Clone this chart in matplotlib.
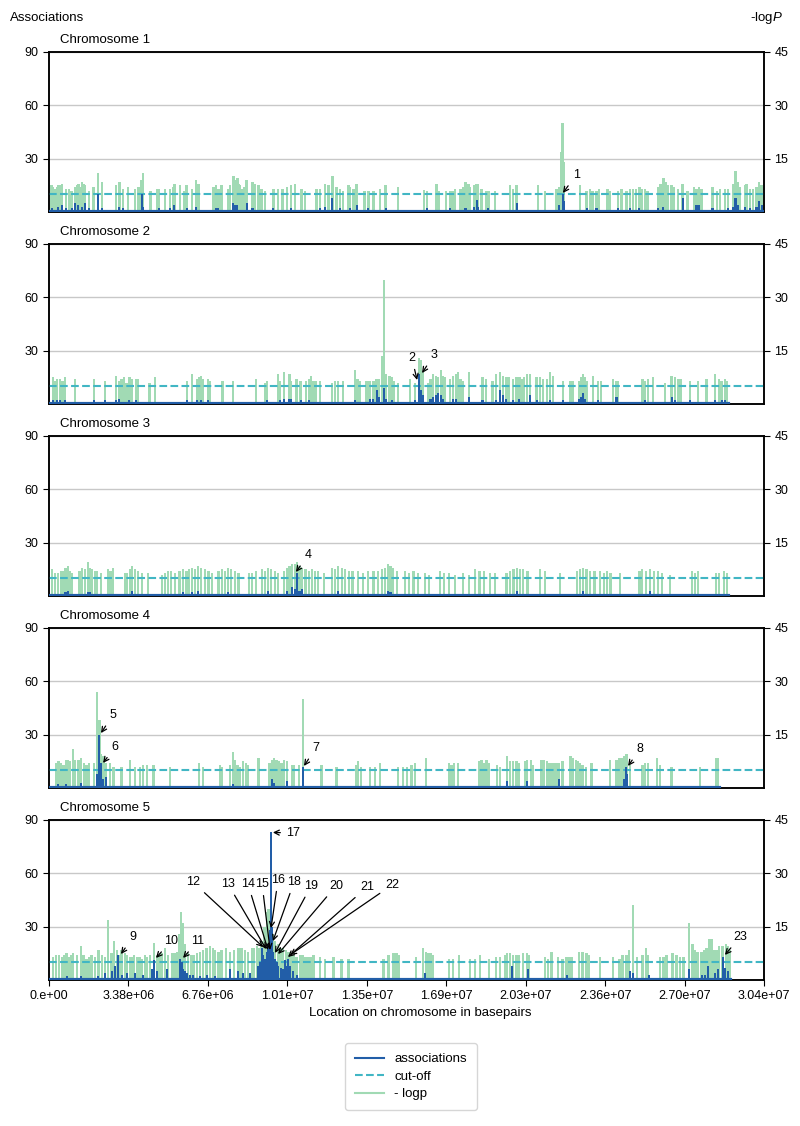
import matplotlib.pyplot as plt
from matplotlib.lines import Line2D
import numpy as np

plt.rcParams['font.family'] = ['Liberation Sans', 'DejaVu Sans']
plt.rcParams['mathtext.fontset'] = 'custom'
plt.rcParams['mathtext.rm'] = 'Liberation Sans'
plt.rcParams['mathtext.it'] = 'Liberation Sans:italic'

## colours (YlGnBu)
c_assoc = '#225ea8'
c_cut = '#41b6c4'
c_logp = '#a1dab4'

## x axis (positions in Mb)
xticks = np.linspace(0, 30.4, 10)
xticklabels = ['0.e+00', '3.38e+06', '6.76e+06', '1.01e+07', '1.35e+07',
               '1.69e+07', '2.03e+07', '2.36e+07', '2.70e+07', '3.04e+07']
cutoff = 5  # -logp
chrom_names = ['Chromosome 1', 'Chromosome 2', 'Chromosome 3', 'Chromosome 4', 'Chromosome 5']
chrom_end = [30.3, 28.85, 28.85, 28.5, 28.95]

## -logp per chromosome: (Mb, -logp)
chr1_logp = [(0.11, 7.5), (0.18, 7), (0.25, 6.5), (0.33, 7), (0.40, 7.5), (0.47, 7.5), (0.54, 8), (0.71, 6.5),
             (0.85, 6.5), (0.96, 6), (1.11, 7), (1.18, 7.5), (1.25, 8), (1.32, 7), (1.39, 8.5), (1.46, 8),
             (1.53, 7.5), (1.71, 6), (1.89, 7), (2.07, 11), (2.24, 8.5), (2.85, 7.5), (2.99, 8.5), (3.16, 6.5),
             (3.37, 7), (3.66, 6.5), (3.80, 7), (3.94, 9), (4.01, 11), (4.32, 6), (4.58, 6.5), (4.69, 6.5),
             (4.93, 6.5), (5.14, 6.5), (5.26, 7), (5.33, 8), (5.57, 7.5), (5.74, 6), (5.85, 7.5), (6.07, 6.5),
             (6.25, 9), (6.35, 8), (6.99, 7), (7.10, 7.5), (7.20, 6.5), (7.34, 7.5), (7.62, 6.5), (7.70, 7.5),
             (7.84, 10), (7.91, 9), (8.01, 9.5), (8.06, 8), (8.12, 7.5), (8.23, 6.5), (8.30, 7), (8.40, 9),
             (8.65, 8.5), (8.76, 8), (8.90, 7.5), (9.04, 6.5), (9.18, 6), (9.54, 6.5), (9.75, 6.5), (9.93, 6.5),
             (10.13, 7), (10.29, 7.5), (10.46, 8), (10.74, 6.5), (10.88, 6), (11.38, 6.5), (11.52, 6.5),
             (11.73, 8), (11.88, 7.5), (12.05, 10), (12.23, 7), (12.37, 6.5), (12.51, 6), (12.73, 7.5),
             (12.80, 7), (12.94, 6.5), (13.08, 8), (13.41, 6), (13.58, 6), (13.79, 6), (14.07, 6.5),
             (14.31, 7.5), (14.85, 7), (15.94, 6.3), (16.08, 6), (16.48, 8), (16.59, 6), (16.88, 6), (17.05, 6),
             (17.16, 6), (17.26, 6.5), (17.50, 6.5), (17.61, 7), (17.71, 8.5), (17.83, 8), (17.90, 7),
             (18.07, 7.5), (18.18, 8), (18.25, 8), (18.39, 6.5), (18.58, 6), (18.68, 6), (18.96, 6),
             (19.60, 7.5), (19.74, 6.5), (19.88, 7.5), (20.80, 7.5), (21.09, 6), (21.58, 6.5), (21.69, 7),
             (21.78, 17), (21.84, 25), (21.89, 14), (22.57, 7.5), (22.86, 6), (23.00, 6.5), (23.11, 6),
             (23.28, 6), (23.39, 6.5), (23.74, 6.5), (23.85, 6), (24.20, 6), (24.34, 6.5), (24.56, 6),
             (24.70, 6.5), (24.84, 6.5), (24.95, 6.5), (25.10, 7), (25.19, 6.5), (25.34, 6.5), (25.44, 6),
             (25.90, 7), (26.00, 8), (26.12, 9.5), (26.22, 8.5), (26.33, 7.5), (26.47, 7.5), (26.57, 7),
             (26.75, 6.5), (26.94, 8), (27.14, 6), (27.42, 7), (27.53, 6.5), (27.65, 7), (27.75, 6.5),
             (28.21, 7), (28.41, 6), (28.53, 6.5), (28.74, 6.5), (28.88, 6.5), (29.09, 8), (29.19, 11.5),
             (29.30, 8.5), (29.38, 7), (29.59, 7.5), (29.66, 8), (29.80, 6.5), (29.94, 6.5), (30.08, 7),
             (30.20, 8.5), (30.30, 7.5)]

chr2_logp = [(0.16, 7.5), (0.25, 6.5), (0.35, 7), (0.47, 7), (0.58, 6.5), (0.68, 7.5), (1.11, 7), (1.91, 7),
             (2.38, 6.5), (2.85, 8), (2.99, 6.5), (3.09, 7), (3.19, 7.5), (3.30, 6), (3.42, 7.5), (3.51, 7),
             (3.70, 7), (3.77, 7), (4.27, 6), (4.51, 7.5), (5.88, 6.5), (6.09, 8.5), (6.28, 7), (6.39, 7.5),
             (6.45, 8), (6.56, 7), (6.77, 7), (6.85, 6.5), (7.38, 6.5), (7.81, 6.5), (8.80, 7), (9.18, 6),
             (9.28, 6.5), (9.75, 8.5), (9.82, 6.5), (9.99, 9), (10.22, 8.5), (10.27, 6.5), (10.53, 7),
             (10.70, 6.5), (10.93, 6.5), (11.07, 7), (11.14, 8), (11.24, 6.5), (11.35, 6.5), (11.52, 6.5),
             (12.02, 6), (12.16, 6.5), (12.30, 6.5), (12.51, 6.5), (13.01, 9.5), (13.11, 7), (13.22, 6.5),
             (13.48, 6.5), (13.58, 6.5), (13.65, 6.5), (13.79, 6.5), (13.93, 7), (14.04, 7), (14.16, 13.5),
             (14.24, 35), (14.33, 8.5), (14.47, 8), (14.57, 7.5), (14.68, 6.5), (14.85, 6), (15.35, 7),
             (15.56, 6), (15.74, 13), (15.83, 12.5), (15.91, 9), (16.12, 6), (16.22, 7), (16.34, 8.5),
             (16.45, 8), (16.55, 7.5), (16.66, 9.5), (16.76, 8), (16.83, 7.5), (17.05, 7), (17.19, 8),
             (17.30, 8.5), (17.40, 9), (17.50, 7), (17.61, 6.5), (17.87, 9), (18.43, 7.5), (18.58, 7),
             (18.86, 6.5), (19.00, 8.5), (19.17, 9), (19.31, 8), (19.43, 7.5), (19.53, 7.5), (19.74, 7),
             (19.88, 7.5), (20.00, 7.5), (20.09, 7), (20.19, 7.5), (20.31, 8.5), (20.45, 8.5), (20.73, 7.5),
             (20.87, 7.5), (21.01, 7), (21.16, 7), (21.30, 9), (21.44, 8), (21.86, 6.5), (22.18, 6.5),
             (22.29, 6.5), (22.53, 6.5), (22.64, 7.5), (22.71, 8.5), (22.79, 7.5), (22.88, 6.5), (23.14, 8),
             (23.35, 6.5), (23.47, 6.5), (23.99, 7), (24.13, 6.5), (24.20, 6.5), (25.24, 7), (25.34, 6.5),
             (25.48, 7), (25.69, 7.5), (26.19, 6), (26.47, 8), (26.61, 7.5), (26.75, 7), (26.85, 7),
             (27.25, 6.5), (27.60, 6.5), (27.96, 7), (28.31, 8.5), (28.50, 7), (28.60, 6.5), (28.74, 7),
             (28.84, 6.5)]

chr3_logp = [(0.13, 7.5), (0.25, 6.5), (0.38, 6.5), (0.50, 7), (0.60, 7), (0.70, 8), (0.81, 8.5), (0.90, 7),
             (0.98, 6.5), (1.30, 7), (1.40, 8), (1.52, 7.5), (1.66, 9.5), (1.75, 8), (1.83, 7.5), (1.95, 7),
             (2.04, 7), (2.20, 6.5), (2.51, 7.5), (2.62, 7), (2.72, 8), (3.22, 6.5), (3.32, 6.5), (3.45, 7.5),
             (3.53, 8.5), (3.65, 7.5), (3.78, 7), (3.95, 6.5), (4.21, 6.5), (4.80, 6), (4.92, 6.5), (5.06, 7),
             (5.20, 7), (5.36, 6.5), (5.55, 7), (5.70, 7.5), (5.85, 7), (5.95, 7.5), (6.08, 8), (6.20, 7.5),
             (6.33, 8.5), (6.45, 8), (6.63, 7.5), (6.78, 7), (6.93, 6.5), (7.20, 7), (7.36, 7.5), (7.48, 7),
             (7.61, 8), (7.75, 7.5), (7.91, 7), (8.05, 6.5), (8.50, 6.5), (8.63, 6.5), (8.80, 7), (9.06, 7.5),
             (9.18, 7), (9.31, 8), (9.45, 7.5), (9.61, 7), (9.75, 6.5), (10.00, 7), (10.12, 8), (10.22, 8.5),
             (10.33, 9), (10.45, 9), (10.54, 9.5), (10.65, 8.5), (10.76, 8), (10.90, 7.5), (11.05, 7),
             (11.18, 7.5), (11.30, 7), (11.44, 7), (11.70, 6.5), (12.03, 8), (12.15, 7.5), (12.29, 8.5),
             (12.45, 8), (12.59, 7.5), (12.75, 7), (12.90, 7), (13.14, 7), (13.35, 6.5), (13.55, 7), (13.80, 7),
             (14.00, 7), (14.16, 7.5), (14.28, 8), (14.41, 9), (14.52, 8.5), (14.63, 8), (14.80, 7), (15.14, 7),
             (15.30, 6.5), (15.50, 7), (15.69, 6.5), (15.99, 6.5), (16.15, 6), (16.62, 7), (16.80, 6.5),
             (17.00, 6.5), (17.26, 6), (17.60, 6.5), (17.85, 6), (18.11, 7.5), (18.30, 7), (18.50, 7),
             (18.75, 6.5), (18.95, 6.5), (19.45, 6.5), (19.60, 7), (19.75, 7.5), (19.90, 8), (20.02, 7.5),
             (20.15, 7.5), (20.35, 7), (20.88, 7.5), (21.09, 7), (21.73, 6.5), (22.45, 7), (22.58, 7.5),
             (22.70, 8), (22.85, 7.5), (23.00, 7), (23.20, 7), (23.43, 7), (23.60, 6.5), (23.72, 7),
             (23.88, 6.5), (24.28, 6.5), (25.10, 7), (25.21, 7.5), (25.38, 7), (25.55, 7.5), (25.72, 7),
             (25.89, 7), (26.05, 6.5), (26.40, 6), (27.34, 7), (27.47, 6.5), (27.59, 7), (28.36, 6.5),
             (28.50, 6.5), (28.70, 7), (28.83, 6.5)]

chr4_logp = [(0.30, 7), (0.40, 7.5), (0.50, 7), (0.61, 6.5), (0.72, 8), (0.82, 8), (0.89, 7.5), (1.01, 11),
             (1.11, 8), (1.25, 8), (1.35, 8.5), (1.49, 7), (1.60, 6.5), (1.71, 7), (1.91, 7), (2.05, 27),
             (2.14, 19), (2.21, 9.5), (2.31, 9), (2.42, 7), (2.59, 7), (2.74, 6), (3.09, 6), (3.44, 8),
             (3.66, 6), (3.87, 6), (4.01, 6.5), (4.18, 6.5), (4.44, 6.5), (5.14, 6), (6.39, 7), (6.56, 6),
             (7.27, 6.5), (7.34, 6), (7.70, 6.5), (7.81, 10), (7.91, 8), (8.01, 6.5), (8.12, 6), (8.26, 7.5),
             (8.38, 7), (8.47, 6.5), (8.90, 8.5), (9.37, 7), (9.47, 8), (9.57, 8.5), (9.68, 8), (9.79, 7.5),
             (9.89, 7), (9.99, 8), (10.11, 7.5), (10.32, 6.5), (10.43, 6.5), (10.64, 6.5), (10.79, 25),
             (11.59, 6.5), (12.23, 6), (13.05, 6.5), (13.15, 7.5), (13.27, 6), (13.65, 6), (13.86, 6),
             (14.07, 7), (14.85, 6), (15.04, 6), (15.21, 6), (15.42, 6.5), (15.56, 7), (16.03, 8.5),
             (17.02, 7), (17.12, 6.5), (17.22, 7), (17.40, 7), (18.29, 7.5), (18.39, 8), (18.49, 7),
             (18.60, 8), (18.72, 7), (19.06, 6.5), (19.17, 6), (19.48, 9), (19.60, 7.5), (19.74, 7.5),
             (19.88, 7.5), (19.99, 7), (20.23, 7.5), (20.33, 8), (20.48, 8), (20.59, 6.5), (20.94, 8),
             (21.04, 8), (21.16, 7.5), (21.27, 7), (21.37, 7), (21.47, 7), (21.58, 7), (21.69, 7), (21.84, 7.5),
             (22.18, 9), (22.29, 8.5), (22.40, 8), (22.50, 7.5), (22.57, 7), (22.69, 6.5), (22.83, 6),
             (23.07, 7), (23.85, 8), (24.13, 8), (24.25, 8.5), (24.34, 8.5), (24.44, 9), (24.56, 9.5),
             (24.70, 6.5), (25.24, 6.5), (25.34, 7), (25.48, 7), (25.86, 8.5), (25.97, 6.5), (26.47, 6),
             (27.68, 6), (28.35, 8.5), (28.45, 8.5)]

chr5_logp = [(0.18, 6.5), (0.30, 7), (0.42, 7), (0.54, 6.5), (0.65, 7), (0.75, 7.5), (0.86, 6.5), (0.96, 7),
             (1.03, 7.5), (1.18, 7), (1.35, 9.5), (1.46, 7), (1.60, 6), (1.70, 6.5), (1.81, 7), (1.96, 6.5),
             (2.10, 8.5), (2.24, 7), (2.38, 6.5), (2.52, 17), (2.66, 7.5), (2.76, 11), (2.88, 8.5), (2.99, 7),
             (3.09, 8.5), (3.23, 7.5), (3.33, 7), (3.44, 6.5), (3.52, 6.5), (3.61, 7), (3.76, 6.5), (3.85, 6.5),
             (3.94, 6), (4.08, 7), (4.18, 6.5), (4.29, 7), (4.46, 10.5), (4.58, 7), (4.68, 7), (4.79, 7.5),
             (4.93, 9), (5.07, 7), (5.22, 7.5), (5.34, 7.5), (5.46, 8), (5.54, 13), (5.60, 19), (5.68, 16),
             (5.78, 10), (5.92, 7.5), (6.03, 7), (6.14, 7), (6.28, 7.5), (6.42, 8), (6.56, 8.5), (6.70, 9),
             (6.85, 9.5), (6.96, 9), (7.06, 8.5), (7.20, 8), (7.34, 8.5), (7.53, 9), (7.70, 8), (7.87, 8.5),
             (8.05, 9), (8.19, 9), (8.33, 8.5), (8.47, 8), (8.62, 9), (8.72, 9), (8.83, 9.5), (8.94, 9),
             (9.04, 11), (9.16, 15), (9.26, 19), (9.33, 20), (9.40, 14), (9.51, 13), (9.61, 11), (9.75, 10),
             (9.85, 9), (9.96, 9), (10.08, 8.5), (10.18, 8), (10.27, 7), (10.39, 7), (10.53, 6.5), (10.67, 7),
             (10.78, 7), (10.90, 6.5), (11.03, 6.5), (11.13, 6.5), (11.24, 7), (11.52, 6.5), (11.73, 6),
             (12.09, 6.5), (12.44, 6), (12.73, 6), (14.22, 6), (14.43, 7), (14.64, 7.5), (14.78, 7.5),
             (14.89, 7), (15.60, 6.5), (15.91, 9), (16.03, 8), (16.12, 7.5), (16.22, 7.5), (16.34, 7),
             (17.02, 6), (17.19, 6), (17.44, 7), (17.90, 6), (18.11, 6), (18.32, 7), (18.72, 6), (19.00, 6.5),
             (19.17, 6.5), (19.38, 7), (19.48, 7.5), (19.60, 7.5), (19.74, 7), (19.88, 7), (19.99, 7),
             (20.14, 7.5), (20.31, 7.5), (20.42, 7), (21.09, 6.5), (21.23, 6), (21.37, 8), (21.65, 6.5),
             (21.84, 6), (22.01, 6.5), (22.12, 6.5), (22.22, 6.5), (22.54, 8), (22.69, 8), (22.86, 7.5),
             (22.97, 7), (23.42, 6.5), (23.99, 6.5), (24.25, 6), (24.39, 7), (24.56, 7), (24.67, 8.5),
             (24.84, 21), (25.01, 6.5), (25.24, 7), (25.38, 9), (25.48, 7), (25.97, 6.5), (26.12, 6.5),
             (26.26, 7), (26.51, 7.5), (26.68, 7), (26.82, 6.5), (26.97, 6.5), (27.22, 16), (27.36, 10),
             (27.46, 8.5), (27.58, 8), (27.75, 8), (27.86, 8.5), (27.96, 9), (28.07, 11.5), (28.17, 11.5),
             (28.28, 8.5), (28.38, 8.5), (28.50, 9.5), (28.64, 9.5), (28.78, 10), (28.88, 9.5), (28.95, 8.5)]

## associations per chromosome: (Mb, count)
chr1_assoc = [(0.11, 2), (0.40, 3), (0.54, 4), (0.71, 2), (0.96, 2), (1.11, 5), (1.25, 4), (1.39, 3), (1.53, 5),
              (1.71, 2), (2.07, 10), (2.24, 2), (2.99, 3), (3.16, 2), (3.94, 10), (4.01, 3), (4.69, 2),
              (5.14, 2), (5.33, 4), (5.85, 2), (6.25, 3), (7.10, 2), (7.20, 2), (7.84, 5), (7.91, 4), (8.01, 4),
              (8.40, 5), (8.65, 2), (9.54, 2), (10.29, 2), (11.52, 2), (11.73, 3), (12.05, 8), (12.37, 2),
              (12.80, 2), (13.08, 4), (13.58, 2), (14.31, 2), (16.08, 2), (17.05, 2), (17.71, 2), (18.07, 3),
              (18.18, 7), (18.25, 3), (18.68, 2), (19.88, 5), (21.69, 4), (21.84, 10), (21.89, 6), (22.86, 2),
              (23.28, 2), (24.20, 2), (24.70, 2), (25.10, 2), (25.90, 2), (26.12, 3), (26.94, 8), (27.53, 4),
              (27.65, 4), (28.21, 2), (28.88, 2), (29.09, 3), (29.19, 8), (29.30, 4), (29.59, 3), (29.80, 2),
              (30.08, 3), (30.20, 6), (30.30, 4)]
chr2_assoc = [(0.16, 2), (0.35, 2), (0.47, 2), (0.68, 2), (1.91, 2), (2.38, 2), (2.85, 2), (2.99, 3),
              (3.42, 2), (3.70, 2), (5.88, 2), (6.28, 2), (6.45, 2), (6.77, 2), (9.28, 2), (9.82, 2),
              (10.00, 3), (10.22, 3), (10.27, 3), (10.70, 2), (11.07, 2), (13.01, 2), (13.65, 3), (13.79, 3),
              (13.93, 8), (14.04, 4), (14.24, 9), (14.33, 3), (14.57, 2), (15.56, 2), (15.74, 17), (15.83, 8),
              (15.91, 5), (16.22, 3), (16.34, 4), (16.45, 5), (16.55, 6), (16.66, 5), (16.76, 3), (17.19, 3),
              (17.30, 3), (17.87, 4), (18.43, 2), (19.00, 2), (19.17, 8), (19.31, 5), (19.43, 3), (19.74, 2),
              (20.00, 3), (20.45, 5), (20.73, 2), (21.30, 2), (21.86, 2), (22.53, 3), (22.64, 4), (22.71, 6),
              (22.79, 3), (23.35, 2), (24.13, 4), (25.34, 2), (26.47, 4), (26.61, 2), (27.25, 2), (28.31, 2),
              (28.60, 2), (28.74, 2)]
chr3_assoc = [(0.70, 2), (0.81, 3), (1.66, 2), (1.75, 2), (3.53, 3), (5.70, 2), (6.08, 2), (6.33, 3),
              (7.61, 2), (9.31, 3), (10.12, 3), (10.33, 5), (10.45, 4), (10.54, 13), (10.65, 3), (10.76, 4),
              (12.29, 3), (14.41, 3), (14.52, 2), (19.90, 3), (22.70, 3), (25.55, 3)]
chr4_assoc = [(0.40, 2), (0.72, 2), (1.35, 3), (2.05, 8), (2.14, 30), (2.21, 14), (2.31, 5), (2.42, 6),
              (7.81, 2), (9.47, 5), (9.57, 3), (10.11, 4), (10.79, 12), (19.48, 4), (20.33, 4), (21.69, 5),
              (24.44, 5), (24.53, 12), (24.56, 8)]
chr5_assoc = [(0.75, 2), (1.35, 2), (2.10, 2), (2.38, 4), (2.66, 5), (2.81, 8), (2.95, 14), (3.09, 3),
              (3.30, 4), (3.66, 4), (4.01, 3), (4.37, 6), (4.46, 11), (4.58, 5), (5.00, 6), (5.57, 12),
              (5.64, 10), (5.71, 6), (5.78, 5), (5.85, 4), (5.99, 3), (6.14, 3), (6.42, 2), (6.70, 3),
              (7.06, 2), (7.70, 6), (8.05, 5), (8.26, 4), (8.55, 4), (8.90, 8), (8.97, 10), (9.04, 18),
              (9.11, 14), (9.18, 12), (9.26, 16), (9.33, 20), (9.40, 28), (9.45, 83), (9.50, 30), (9.54, 16),
              (9.61, 12), (9.68, 10), (9.75, 8), (9.85, 7), (9.96, 6), (10.03, 11), (10.10, 8), (10.18, 12),
              (10.25, 8), (10.39, 5), (10.53, 3), (15.98, 4), (19.67, 8), (20.38, 6), (22.01, 3), (24.70, 5),
              (24.84, 4), (25.52, 3), (27.22, 6), (27.75, 3), (27.89, 3), (28.03, 8), (28.31, 4), (28.45, 6),
              (28.64, 13), (28.74, 7), (28.88, 5)]

## annotations: (chromosome index, label, tip x, tip y, text x, text y)
annotations = [(0, '1', 21.85, 10.7, 22.41, 20.8), (1, '2', 15.65, 13.5, 15.43, 25.9),
               (1, '3', 15.86, 17.4, 16.37, 27.6), (2, '4', 10.50, 13.5, 11.01, 23.1),
               (3, '5', 2.21, 30.9, 2.72, 41.1), (3, '6', 2.30, 14.1, 2.81, 23.1),
               (3, '7', 10.84, 12.4, 11.35, 22.5), (3, '8', 24.62, 12.4, 25.13, 21.9),
               (4, '9', 3.06, 14.6, 3.57, 24.2), (4, '10', 4.55, 12.4, 5.19, 21.9),
               (4, '11', 5.70, 12.4, 6.33, 21.9), (4, '12', 9.10, 18.6, 6.12, 55.1),
               (4, '13', 9.23, 17.4, 7.61, 54.0), (4, '14', 9.31, 16.9, 8.46, 54.0),
               (4, '15', 9.40, 16.9, 9.06, 54.0), (4, '16', 9.44, 29.2, 9.74, 56.3),
               (4, '17', 9.52, 83.0, 10.37, 82.7), (4, '18', 9.52, 21.9, 10.42, 55.1),
               (4, '19', 9.61, 15.2, 11.14, 52.9), (4, '20', 9.74, 14.6, 12.20, 52.9),
               (4, '21', 10.16, 12.9, 13.52, 52.3), (4, '22', 10.25, 14.1, 14.58, 53.4),
               (4, '23', 28.74, 14.1, 29.38, 24.2)]

logp_all = [chr1_logp, chr2_logp, chr3_logp, chr4_logp, chr5_logp]
assoc_all = [chr1_assoc, chr2_assoc, chr3_assoc, chr4_assoc, chr5_assoc]

fig = plt.figure(figsize=(8, 11.26), dpi=100)
axes = []
for i in range(5):
    bottom = 1 - (212 + 192 * i) / 1126
    ax = fig.add_axes([49 / 800, bottom, 715 / 800, 160 / 1126])
    ax2 = ax.twinx()
    ax.set_zorder(ax2.get_zorder() + 1)
    ax.patch.set_visible(False)

    gpos, gval = zip(*logp_all[i])
    ax2.bar(gpos, gval, width=0.1, color=c_logp, linewidth=0, zorder=2)
    ax2.axhline(cutoff, color=c_cut, ls='--', lw=1.5, zorder=3)
    ax2.set_ylim(0, 45)
    ax2.set_yticks([15, 30, 45])
    ax2.yaxis.grid(True, color='#c8c8c8', lw=1)
    ax2.set_axisbelow(True)

    apos, aval = zip(*assoc_all[i])
    ax.bar(apos, aval, width=0.09, color=c_assoc, linewidth=0, zorder=3)
    ax.plot([0.05, chrom_end[i]], [0, 0], color=c_assoc, lw=3, zorder=3)
    ax.set_ylim(0, 90)
    ax.set_yticks([30, 60, 90])
    ax.set_xlim(0, 30.4)

    for a in (ax, ax2):
        a.tick_params(labelsize=9, length=4)
        for s in a.spines.values():
            s.set_linewidth(1.1)
    if i < 4:
        ax.set_xticks([])
    else:
        ax.set_xticks(xticks)
        ax.set_xticklabels(xticklabels)
    ax.text(0.015, 1.075, chrom_names[i], transform=ax.transAxes, fontsize=9.5, va='center', ha='left')
    axes.append(ax)

for ci, lab, tx, ty, lx, ly in annotations:
    axes[ci].annotate(lab, xy=(tx, ty), xytext=(lx, ly), ha='center', va='center', fontsize=9,
                      arrowprops=dict(arrowstyle='->', color='black', lw=0.9, shrinkA=2, shrinkB=0),
                      zorder=5)

fig.text(10 / 800, 1 - 18 / 1126, 'Associations', fontsize=9.5, ha='left', va='center')
fig.text(783 / 800, 1 - 18 / 1126, '-log$\\mathit{P}$', fontsize=9.5, ha='right', va='center')
fig.text(420 / 800, 1 - 1013 / 1126, 'Location on chromosome in basepairs', fontsize=9.5,
         ha='center', va='center')

handles = [Line2D([], [], color=c_assoc, lw=1.5),
           Line2D([], [], color=c_cut, lw=1.5, ls='--'),
           Line2D([], [], color=c_logp, lw=1.5)]
fig.legend(handles, ['associations', 'cut-off', '- logp'], loc='upper center',
           bbox_to_anchor=(411 / 800, 1 - 1043 / 1126), fontsize=9.5, borderpad=0.75,
           labelspacing=0.4, handlelength=2.2, borderaxespad=0)

fig.savefig('out.png', dpi=100)
